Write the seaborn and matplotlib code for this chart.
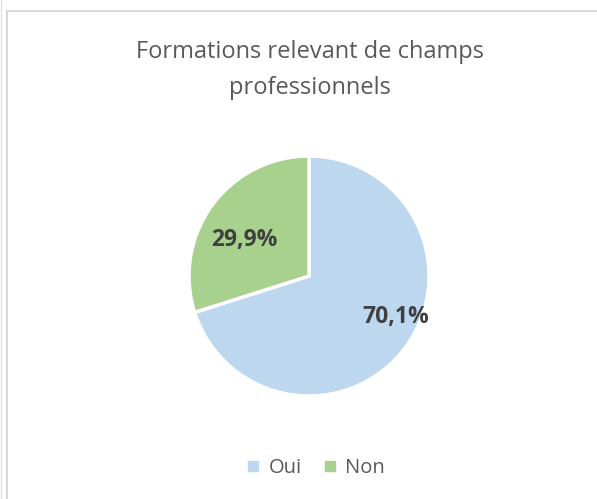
import matplotlib

matplotlib.use("Agg")

import matplotlib.pyplot as plt
import seaborn as sns
from matplotlib.lines import Line2D
from matplotlib.patches import Rectangle

categories = ["Oui", "Non"]
shares = [70.1, 29.9]
colors = ["#BDD7EE", "#A9D18E"]
title = "Formations relevant de champs\nprofessionnels"

sns.set_theme(style="white")
plt.rcParams["font.family"] = ["Open Sans", "DejaVu Sans"]

W, H = 597, 499
fig = plt.figure(figsize=(W / 100, H / 100), dpi=100)
fig.patch.set_facecolor("white")

# chart frame (Excel-like border, cut at right and bottom)
fig.add_artist(Rectangle((7 / W, -0.1), 1.2, 1 - 11 / H + 0.1, transform=fig.transFigure,
                         fill=False, edgecolor="#D9D9D9", linewidth=1.5))
fig.add_artist(Line2D([0.5 / W, 0.5 / W], [0, 1], transform=fig.transFigure,
                      color="#E3E3E3", linewidth=1))

cx, cy, r = 309, 276, 120
ax = fig.add_axes([(cx - r) / W, (H - cy - r) / H, 2 * r / W, 2 * r / H])
wedges, _, autotexts = ax.pie(
    shares,
    colors=colors,
    startangle=90,
    counterclock=False,
    autopct=lambda p: f"{p:.1f}%".replace(".", ","),
    pctdistance=0.72,
    wedgeprops={"edgecolor": "white", "linewidth": 2.5},
    textprops={"fontsize": 16.5, "fontweight": "bold", "color": "#404040"},
)
autotexts[0].set_position((0.72, -0.34))
autotexts[1].set_position((-0.54, 0.30))
ax.set_xlim(-1.0, 1.0)
ax.set_ylim(-1.0, 1.0)
ax.set_aspect("equal")
ax.axis("off")

fig.text(310 / W, 1 - 70 / H, title, ha="center", va="center", fontsize=17,
         color="#595959", linespacing=1.7)

handles = [Line2D([], [], marker="s", linestyle="", markersize=7.5,
                  markerfacecolor=c, markeredgecolor=c) for c in colors]
fig.legend(handles, categories, loc="center", bbox_to_anchor=(316 / W, 1 - 468 / H),
           ncol=2, frameon=False, fontsize=14.5, handlelength=0.6, handletextpad=0.45,
           columnspacing=1.1, labelcolor="#595959")

fig.savefig("out.png", dpi=100)
